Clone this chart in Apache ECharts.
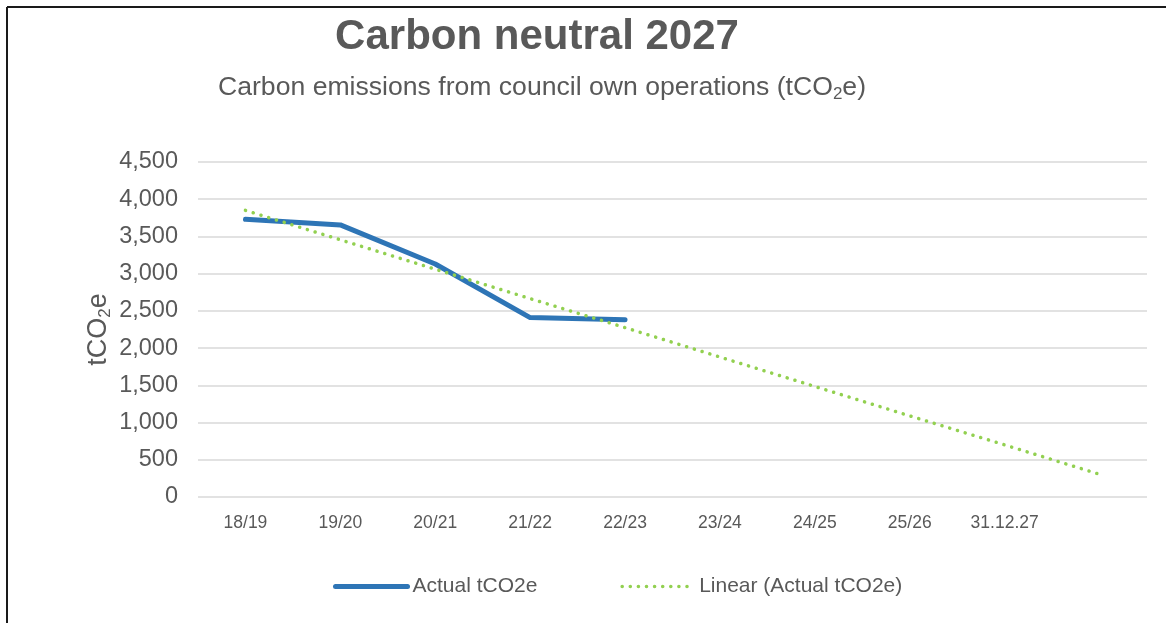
<!DOCTYPE html>
<html>
<head>
<meta charset="utf-8">
<script src="https://cdn.jsdelivr.net/npm/echarts@6/dist/echarts.min.js"></script>
<style>
html,body{margin:0;padding:0;background:#fff;}
#chart{width:1166px;height:623px;}
</style>
</head>
<body>
<div id="chart"></div>
<script>
var categories = ['18/19','19/20','20/21','21/22','22/23','23/24','24/25','25/26','31.12.27',''];
var actualValues = [3730, 3655, 3130, 2410, 2380];
var linearTrendValues = [3850, 3455, 3060, 2665, 2275, 1880, 1485, 1090, 700, 305];
var yTickMin = 0, yTickMax = 4500, yTickStep = 500;
var titleText = 'Carbon neutral 2027';
var seriesNames = ['Actual tCO2e', 'Linear (Actual tCO2e)'];

var FONT = "'Liberation Sans', Arial, sans-serif";
var GREY = '#595959';
var BLUE = '#2E75B6', GREEN = '#92D050';
var chart = echarts.init(document.getElementById('chart'));
chart.setOption({
  animation: false,
  backgroundColor: '#fff',
  grid: {left: 198, right: 19, top: 162, bottom: 126, containLabel: false},
  graphic: [
    {type: 'line', shape: {x1: 7, y1: 7, x2: 1166, y2: 7}, style: {stroke: '#1a1a1a', lineWidth: 2}},
    {type: 'line', shape: {x1: 7, y1: 7, x2: 7, y2: 623}, style: {stroke: '#1a1a1a', lineWidth: 2}},
    {type: 'text', x: 537, y: 37, style: {text: titleText, fill: GREY, font: 'bold 42px ' + FONT, align: 'center', verticalAlign: 'middle'}},
    {type: 'text', x: 542, y: 88, style: {
      text: '{a|Carbon emissions from council own operations (tCO}{s|2}{a|e)}',
      align: 'center', verticalAlign: 'middle',
      rich: {
        a: {fontSize: 26.6, fontFamily: FONT, fill: GREY, color: GREY, lineHeight: 29},
        s: {fontSize: 17, fontFamily: FONT, fill: GREY, color: GREY, lineHeight: 10, verticalAlign: 'bottom'}
      }
    }}
  ],
  legend: {
    left: 328, top: 571,
    itemWidth: 72, itemHeight: 20, itemGap: 83,
    itemStyle: {opacity: 0},
    textStyle: {fontSize: 21, fontFamily: FONT, color: GREY},
    data: [
      {name: seriesNames[0], lineStyle: {width: 5, color: BLUE, cap: 'round'}},
      {name: seriesNames[1], lineStyle: {width: 3.5, color: GREEN, type: [0.1, 8], cap: 'round'}}
    ]
  },
  xAxis: {
    type: 'category',
    data: categories,
    boundaryGap: true,
    axisLine: {show: false},
    axisTick: {show: false},
    axisLabel: {color: GREY, fontSize: 17.5, fontFamily: FONT, margin: 17, interval: 0}
  },
  yAxis: {
    type: 'value',
    min: yTickMin, max: yTickMax, interval: yTickStep,
    name: '{a|tCO}{s|2}{a|e}',
    nameLocation: 'middle',
    nameRotate: 90,
    nameGap: 84,
    nameMoveOverlap: false,
    nameTextStyle: {
      rich: {
        a: {fontSize: 27, fontFamily: FONT, color: GREY, lineHeight: 30},
        s: {fontSize: 17, fontFamily: FONT, color: GREY, lineHeight: 12, verticalAlign: 'bottom'}
      }
    },
    axisLine: {show: false},
    axisTick: {show: false},
    splitLine: {lineStyle: {color: '#D9D9D9', width: 1.5}},
    axisLabel: {
      color: GREY, fontSize: 23.5, fontFamily: FONT, margin: 20,
      formatter: function (v) { return v.toLocaleString('en-US'); }
    }
  },
  series: [
    {
      name: seriesNames[0], type: 'line', data: actualValues,
      symbol: 'none', z: 3,
      lineStyle: {color: BLUE, width: 5, cap: 'round', join: 'round'},
      itemStyle: {color: BLUE}
    },
    {
      name: seriesNames[1], type: 'line', data: linearTrendValues,
      symbol: 'none', z: 4,
      lineStyle: {color: GREEN, width: 3.5, type: [0.1, 8], cap: 'round'},
      itemStyle: {color: GREEN}
    }
  ]
});
</script>
</body>
</html>
